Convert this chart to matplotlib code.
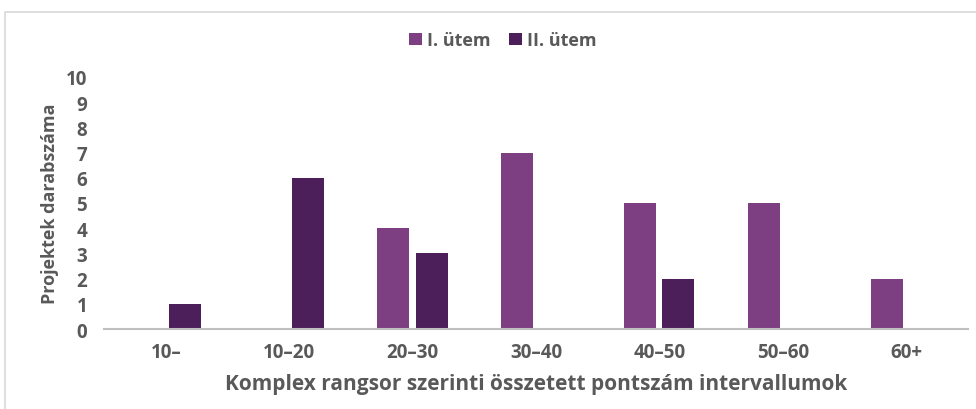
import numpy as np
import matplotlib.pyplot as plt
from matplotlib.patches import Rectangle

# intervallumok es projektszamok utemenkent
kategoriak = ["10–", "10–20", "20–30", "30–40", "40–50", "50–60", "60+"]
utem_1 = [0, 0, 4, 7, 5, 5, 2]
utem_2 = [1, 6, 3, 0, 2, 0, 0]
sorozat_nevek = ["I. ütem", "II. ütem"]

szin_1 = "#7E3F82"
szin_2 = "#4C1F5B"
szurke = "#595959"

plt.rcParams["font.family"] = ["Open Sans", "DejaVu Sans"]
plt.rcParams["font.weight"] = "bold"

fig = plt.figure(figsize=(9.76, 4.10), dpi=100)
# keret a diagram korul
fig.patches.append(Rectangle((5 / 976, -0.01), 2, 1 - 13 / 410 + 0.01,
                             transform=fig.transFigure, fill=False,
                             edgecolor="#D9D9D9", linewidth=1.2))

ax = fig.add_axes([0.1066, 0.195, 0.885, 0.615])
x = np.arange(len(kategoriak))
szel = 0.26
ax.bar(x - 0.155, utem_1, szel, color=szin_1, label=sorozat_nevek[0])
ax.bar(x + 0.155, utem_2, szel, color=szin_2, label=sorozat_nevek[1])

ax.set_xlim(-0.5, len(kategoriak) - 0.5)
ax.set_ylim(0, 10)
ax.set_yticks(range(0, 11))
ax.set_xticks(x)
ax.set_xticklabels(kategoriak)
ax.tick_params(axis="both", length=0, labelsize=13.5, colors=szurke)
ax.tick_params(axis="y", pad=12)
ax.tick_params(axis="x", pad=9)
for s in ["top", "right", "left"]:
    ax.spines[s].set_visible(False)
ax.spines["bottom"].set_color("#BFBFBF")
ax.spines["bottom"].set_linewidth(1.5)

ax.set_ylabel("Projektek darabszáma", fontsize=13, fontweight="bold",
              color=szurke, labelpad=5)
ax.set_xlabel("Komplex rangsor szerinti összetett pontszám intervallumok",
              fontsize=15, fontweight="bold", color=szurke, labelpad=8)

ax.legend(loc="lower center", bbox_to_anchor=(0.462, 1.045), ncol=2, frameon=False,
          fontsize=13, labelcolor=szurke, handlelength=0.7, handleheight=0.7,
          handletextpad=0.3, columnspacing=1.0)

fig.savefig("out.png", dpi=100)
